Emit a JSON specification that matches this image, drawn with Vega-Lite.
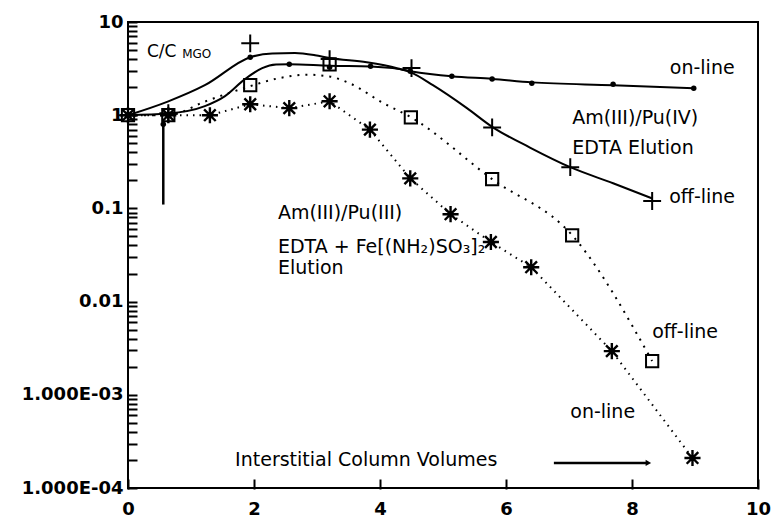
{
  "$schema": "https://vega.github.io/schema/vega-lite/v6.json",
  "width": 630,
  "height": 466,
  "autosize": {"type": "none"},
  "padding": {"left": 128, "top": 22, "right": 14, "bottom": 35},
  "background": "white",
  "config": {"view": {"stroke": "black", "strokeWidth": 2, "fill": null}, "font": "DejaVu Sans"},
  "datasets": {
    "pu4on": [
      {"x": 0, "y": 1}, {"x": 0.56, "y": 0.8}, {"x": 1.94, "y": 4.19}, {"x": 2.56, "y": 3.53},
      {"x": 3.2, "y": 3.27}, {"x": 3.85, "y": 3.36}, {"x": 4.48, "y": 2.97}, {"x": 5.14, "y": 2.62},
      {"x": 5.78, "y": 2.45}, {"x": 6.41, "y": 2.2}, {"x": 7.7, "y": 2.15}, {"x": 8.98, "y": 1.95}
    ],
    "pu4onCurve": [
      {"x": 0, "y": 1}, {"x": 0.63, "y": 1.04}, {"x": 1.22, "y": 1.25}, {"x": 1.54, "y": 1.6},
      {"x": 1.86, "y": 2.45}, {"x": 2.13, "y": 3.2}, {"x": 2.35, "y": 3.5}, {"x": 2.56, "y": 3.53},
      {"x": 3.2, "y": 3.4}, {"x": 3.85, "y": 3.34}, {"x": 4.2, "y": 3.2}, {"x": 4.48, "y": 2.97},
      {"x": 5.14, "y": 2.62}, {"x": 5.78, "y": 2.45}, {"x": 6.41, "y": 2.25}, {"x": 7.7, "y": 2.1},
      {"x": 8.98, "y": 1.95}
    ],
    "pu4off": [
      {"x": 0, "y": 1}, {"x": 0.64, "y": 1.05}, {"x": 1.94, "y": 5.9}, {"x": 3.2, "y": 4.0},
      {"x": 4.5, "y": 3.2}, {"x": 5.78, "y": 0.74}, {"x": 7.02, "y": 0.277}, {"x": 8.32, "y": 0.12}
    ],
    "pu4offCurve": [
      {"x": 0, "y": 1}, {"x": 0.63, "y": 1.4}, {"x": 1.22, "y": 2.1}, {"x": 1.94, "y": 4.19},
      {"x": 2.29, "y": 4.6}, {"x": 2.65, "y": 4.65}, {"x": 2.97, "y": 4.4}, {"x": 3.2, "y": 4.1},
      {"x": 3.79, "y": 3.7}, {"x": 4.27, "y": 3.2}, {"x": 4.48, "y": 2.9}, {"x": 4.84, "y": 2.1},
      {"x": 5.38, "y": 1.19}, {"x": 5.78, "y": 0.75}, {"x": 6.38, "y": 0.45}, {"x": 7.02, "y": 0.277},
      {"x": 7.7, "y": 0.186}, {"x": 8.32, "y": 0.128}
    ],
    "pu3off": [
      {"x": 0, "y": 1}, {"x": 0.64, "y": 1}, {"x": 1.94, "y": 2.1}, {"x": 3.2, "y": 3.5},
      {"x": 4.49, "y": 0.95}, {"x": 5.78, "y": 0.206}, {"x": 7.05, "y": 0.0515}, {"x": 8.32, "y": 0.0023}
    ],
    "pu3offCurve": [
      {"x": 0, "y": 1}, {"x": 0.64, "y": 1}, {"x": 1.22, "y": 1.4}, {"x": 1.94, "y": 2.05},
      {"x": 2.4, "y": 2.5}, {"x": 2.85, "y": 2.72}, {"x": 3.2, "y": 2.6}, {"x": 3.52, "y": 2.2},
      {"x": 4.05, "y": 1.35}, {"x": 4.49, "y": 0.95}, {"x": 5.78, "y": 0.206}, {"x": 7.05, "y": 0.0515},
      {"x": 8.32, "y": 0.0023}
    ],
    "pu3on": [
      {"x": 0, "y": 1}, {"x": 0.64, "y": 1}, {"x": 1.3, "y": 1.0}, {"x": 1.94, "y": 1.31},
      {"x": 2.56, "y": 1.19}, {"x": 3.2, "y": 1.41}, {"x": 3.84, "y": 0.7}, {"x": 4.48, "y": 0.21},
      {"x": 5.12, "y": 0.0867}, {"x": 5.76, "y": 0.0436}, {"x": 6.4, "y": 0.0234}, {"x": 7.68, "y": 0.00294},
      {"x": 8.96, "y": 0.00021}
    ],
    "err": [{"x": 0.56, "y": 0.8, "y2": 0.11}],
    "labels": [
      {"text": "on-line", "x": 8.6, "y": 3.19},
      {"text": "Am(III)/Pu(IV)", "x": 7.05, "y": 0.93},
      {"text": "EDTA Elution", "x": 7.05, "y": 0.443},
      {"text": "off-line", "x": 8.59, "y": 0.132},
      {"text": "Am(III)/Pu(III)", "x": 2.38, "y": 0.089},
      {"text": "EDTA + Fe[(NH₂)SO₃]₂", "x": 2.38, "y": 0.039},
      {"text": "Elution", "x": 2.38, "y": 0.0229},
      {"text": "off-line", "x": 8.32, "y": 0.00469},
      {"text": "on-line", "x": 7.02, "y": 0.00065},
      {"text": "Interstitial Column Volumes", "x": 1.7, "y": 0.0002}
    ],
    "cc": [{"text": "C/C", "x": 0.3, "y": 4.74}],
    "sub": [{"text": "MGO", "x": 0.86, "y": 4.5}],
    "arrow": [{"x": 6.76, "y": 0.000186}, {"x": 8.24, "y": 0.000186}],
    "arrowHead": [{"x": 8.26, "y": 0.000186}]
  },
  "encoding": {
    "x": {
      "field": "x", "type": "quantitative",
      "scale": {"domain": [0, 10], "nice": false, "zero": false},
      "axis": {
        "title": null, "values": [0, 2, 4, 6, 8, 10], "grid": false, "domain": false, "ticks": true, "zindex": 1,
        "offset": -8, "tickColor": "#000000", "tickWidth": 2, "tickSize": 8, "tickOpacity": 1, "tickCap": "square",
        "labelFont": "DejaVu Sans", "labelFontWeight": "bold", "labelFontSize": 18, "labelColor": "black",
        "labelPadding": 12, "labelFlush": false, "labelOverlap": false
      }
    },
    "y": {
      "field": "y", "type": "quantitative",
      "scale": {"type": "log", "domain": [0.0001, 10], "nice": false},
      "axis": {
        "title": null, "grid": false, "domain": false, "ticks": true, "zindex": 1,
        "values": [0.0001, 0.0002, 0.0003, 0.0004, 0.0005, 0.0006, 0.0007, 0.0008, 0.0009,
                   0.001, 0.002, 0.003, 0.004, 0.005, 0.006, 0.007, 0.008, 0.009,
                   0.01, 0.02, 0.03, 0.04, 0.05, 0.06, 0.07, 0.08, 0.09,
                   0.1, 0.2, 0.3, 0.4, 0.5, 0.6, 0.7, 0.8, 0.9,
                   1, 2, 3, 4, 5, 6, 7, 8, 9, 10],
        "labelExpr": "datum.value == 10 ? '10' : datum.value == 1 ? '1' : datum.value == 0.1 ? '0.1' : datum.value == 0.01 ? '0.01' : datum.value == 0.001 ? '1.000E-03' : datum.value == 0.0001 ? '1.000E-04' : ''",
        "offset": -8, "tickSize": 8, "tickColor": "#000000", "tickWidth": 2, "tickOpacity": 1, "tickCap": "square",
        "labelFont": "DejaVu Sans", "labelFontWeight": "bold", "labelFontSize": 18, "labelColor": "black",
        "labelPadding": 5, "labelOverlap": false, "labelFlush": false, "labelBound": false
      }
    }
  },
  "layer": [
    {"data": {"name": "pu4onCurve"}, "mark": {"type": "line", "color": "black", "strokeWidth": 2, "interpolate": "monotone"}},
    {"data": {"name": "pu4offCurve"}, "mark": {"type": "line", "color": "black", "strokeWidth": 2, "interpolate": "monotone"}},
    {"data": {"name": "pu3offCurve"}, "mark": {"type": "line", "color": "black", "strokeWidth": 2, "strokeDash": [2, 6], "interpolate": "monotone"}},
    {"data": {"name": "pu3on"}, "mark": {"type": "line", "color": "black", "strokeWidth": 2, "strokeDash": [1.5, 5]}},
    {"data": {"name": "err"}, "mark": {"type": "rule", "color": "black", "strokeWidth": 2.5}, "encoding": {"y2": {"field": "y2"}}},
    {"data": {"name": "pu4on"}, "mark": {"type": "point", "shape": "circle", "filled": true, "color": "black", "size": 30, "opacity": 1}},
    {"data": {"name": "pu4off"}, "mark": {"type": "point", "shape": "M-1,0H1M0,-1V1", "filled": false, "color": "black", "size": 320, "strokeWidth": 2, "opacity": 1}},
    {"data": {"name": "pu3off"}, "mark": {"type": "point", "shape": "square", "filled": false, "color": "black", "size": 150, "strokeWidth": 2, "opacity": 1}},
    {"data": {"name": "pu3on"}, "mark": {"type": "point", "shape": "M-1,0H1M0,-1V1M-0.72,-0.72L0.72,0.72M-0.72,0.72L0.72,-0.72", "filled": false, "color": "black", "size": 260, "strokeWidth": 2.4, "opacity": 1}},
    {"data": {"name": "arrow"}, "mark": {"type": "line", "color": "black", "strokeWidth": 2.5}},
    {"data": {"name": "arrowHead"}, "mark": {"type": "point", "shape": "triangle-right", "filled": true, "color": "black", "size": 40, "opacity": 1}},
    {"data": {"name": "labels"}, "mark": {"type": "text", "align": "left", "baseline": "middle", "font": "DejaVu Sans", "fontSize": 19, "color": "black"}, "encoding": {"text": {"field": "text"}}},
    {"data": {"name": "cc"}, "mark": {"type": "text", "align": "left", "baseline": "middle", "font": "DejaVu Sans", "fontSize": 17, "color": "black"}, "encoding": {"text": {"field": "text"}}},
    {"data": {"name": "sub"}, "mark": {"type": "text", "align": "left", "baseline": "middle", "font": "DejaVu Sans", "fontSize": 12, "color": "black"}, "encoding": {"text": {"field": "text"}}}
  ]
}
